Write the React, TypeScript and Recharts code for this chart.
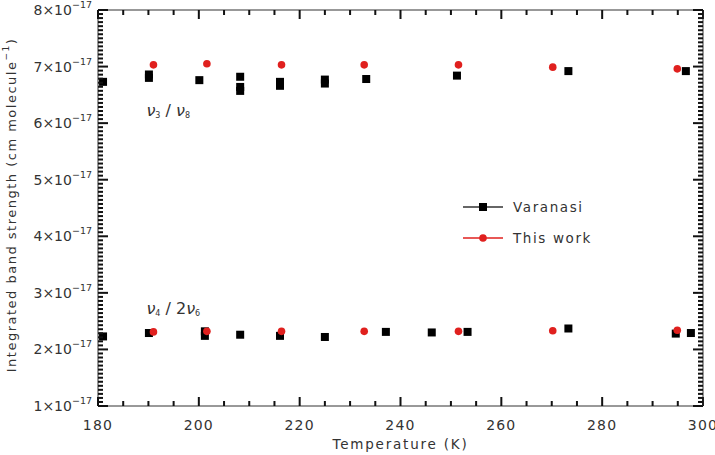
import { ScatterChart, Scatter, XAxis, YAxis, ReferenceDot } from "recharts"

// band strengths in units of 1e-17 cm molecule^-1
const VARANASI_HI_T = [181, 190.1, 190.1, 200.1, 208.2, 208.2, 208.2, 216.1, 216.1, 225, 225, 233.2, 251.2, 273.3, 296.6]
const VARANASI_HI_S = [6.73, 6.86, 6.8, 6.76, 6.82, 6.64, 6.57, 6.73, 6.66, 6.77, 6.7, 6.78, 6.84, 6.92, 6.92]
const VARANASI_LO_T = [181, 190.1, 201.2, 201.2, 208.2, 216.1, 225, 237.1, 246.2, 253.3, 273.3, 294.6, 297.6]
const VARANASI_LO_S = [2.23, 2.29, 2.32, 2.24, 2.26, 2.24, 2.22, 2.31, 2.3, 2.31, 2.37, 2.28, 2.29]
const THIS_WORK_T = [191, 201.6, 216.4, 232.8, 251.5, 270.2, 294.9]
const THIS_WORK_HI_S = [7.03, 7.05, 7.03, 7.03, 7.03, 6.99, 6.96]
const THIS_WORK_LO_S = [2.31, 2.32, 2.32, 2.32, 2.32, 2.33, 2.34]

const X_MAJOR = [180, 200, 220, 240, 260, 280, 300]
const Y_MAJOR = [1, 2, 3, 4, 5, 6, 7, 8]
const X_MINOR_STEP = 5
const Y_MINOR_PER_UNIT = 14

const W = 715
const H = 455
const PLOT_W = 605
const PLOT_H = 396
const FONT = "'DejaVu Sans', sans-serif"
const INK = "#333"
const TICK = "#111"
const RED = "#e0201e"

const zip = (t: number[], s: number[]) => t.map((x, i) => ({ t: x, s: s[i] }))
const varanasi = [...zip(VARANASI_HI_T, VARANASI_HI_S), ...zip(VARANASI_LO_T, VARANASI_LO_S)]
const thisWork = [...zip(THIS_WORK_T, THIS_WORK_HI_S), ...zip(THIS_WORK_T, THIS_WORK_LO_S)]

const xTicks: number[] = []
for (let v = X_MAJOR[0]; v <= X_MAJOR[X_MAJOR.length - 1]; v += X_MINOR_STEP) xTicks.push(v)
const yTicks: number[] = []
for (let i = 0; i < Y_MAJOR.length - 1; i++)
  for (let k = 0; k < Y_MINOR_PER_UNIT; k++) yTicks.push(Y_MAJOR[i] + k / Y_MINOR_PER_UNIT)
yTicks.push(Y_MAJOR[Y_MAJOR.length - 1])

const isMajor = (v: number, list: number[]) => list.some(m => Math.abs(m - v) < 1e-6)
const TW = 2

// ticks point inward on all four sides, like the IDL original; the first tick also draws the far frame edge
function XTick(props: any) {
  const { payload } = props
  const x = Number(props.x)
  const y = Number(props.y)
  const major = isMajor(payload.value, X_MAJOR)
  const len = major ? 9 : 5
  const top = y - PLOT_H
  const first = payload.value === X_MAJOR[0]
  return (
    <g>
      <rect x={x - TW / 2} y={y - len} width={TW} height={len} fill={TICK} />
      <rect x={x - TW / 2} y={top} width={TW} height={len} fill={TICK} />
      {first && <rect x={x} y={top - 0.5} width={PLOT_W} height={1} fill={INK} />}
      {major && (
        <text x={x} y={y + 24} textAnchor="middle" fontSize={14} fill={INK} fontFamily={FONT} letterSpacing={1.2}>
          {payload.value}
        </text>
      )}
    </g>
  )
}

function YTick(props: any) {
  const { payload } = props
  const x = Number(props.x)
  const y = Number(props.y)
  const major = isMajor(payload.value, Y_MAJOR)
  const len = major ? 10 : 5
  const right = x + PLOT_W
  const first = payload.value === Y_MAJOR[0]
  return (
    <g>
      <rect x={x} y={y - TW / 2} width={len} height={TW} fill={TICK} />
      <rect x={right - len} y={y - TW / 2} width={len} height={TW} fill={TICK} />
      {first && <rect x={right - 0.5} y={y - PLOT_H} width={1} height={PLOT_H} fill={INK} />}
      {major && (
        <text x={x - 6} y={y + 5} textAnchor="end" fontSize={14} fill={INK} fontFamily={FONT}>
          {Math.round(payload.value)}×10<tspan dy={-7} fontSize={9.5}>−17</tspan>
        </text>
      )}
    </g>
  )
}

function YTitle({ viewBox }: any) {
  const cx = viewBox.x + 12
  const cy = viewBox.y + viewBox.height / 2 - 3
  return (
    <text x={cx} y={cy} transform={`rotate(-90 ${cx} ${cy})`} textAnchor="middle" dominantBaseline="middle"
      fontSize={13} fill={INK} fontFamily={FONT} letterSpacing={1.5}>
      Integrated band strength (cm molecule<tspan dy={-6} fontSize={9}>−1</tspan><tspan dy={6}>)</tspan>
    </text>
  )
}

function XTitle({ viewBox }: any) {
  return (
    <text x={viewBox.x + viewBox.width / 2} y={viewBox.y + 43} textAnchor="middle" fontSize={13.5} fill={INK}
      fontFamily={FONT} letterSpacing={1.8}>
      Temperature (K)
    </text>
  )
}

function BandLabel({ viewBox, a, b, pre }: any) {
  return (
    <text x={viewBox.x} y={viewBox.y} fontSize={16} fill={INK} fontFamily={FONT} fontStyle="italic">
      ν<tspan fontSize={8} dy={2} fontStyle="normal">{a}</tspan>
      <tspan dy={-2} fontStyle="normal">{"  /  "}{pre}</tspan>ν<tspan fontSize={8} dy={2} fontStyle="normal">{b}</tspan>
    </text>
  )
}

function Square({ cx, cy }: any) {
  return <rect x={cx - 4} y={cy - 4} width={8} height={8} fill="#000" />
}

function Dot({ cx, cy }: any) {
  return <circle cx={cx} cy={cy} r={3.8} fill={RED} />
}

function LegendBox() {
  const rows = [
    { name: "Varanasi", color: INK, dot: <rect x={16} y={-4} width={8} height={8} fill="#000" /> },
    { name: "This work", color: RED, dot: <circle cx={20} cy={0} r={3.8} fill={RED} /> },
  ]
  return (
    <svg width={170} height={50} style={{ position: "absolute", left: 463, top: 199 }}>
      {rows.map((r, i) => (
        <g key={r.name} transform={`translate(0, ${8 + i * 31})`}>
          <line x1={0} y1={0} x2={40} y2={0} stroke={r.color} strokeWidth={1.5} />
          {r.dot}
          <text x={50} y={5} fontSize={13.5} fill={INK} fontFamily={FONT} letterSpacing={1.6}>{r.name}</text>
        </g>
      ))}
    </svg>
  )
}

export default function App() {
  return (
    <div style={{ position: "absolute", left: 0, top: 0, width: W, height: H, background: "#fff" }}>
      <ScatterChart width={W} height={H} margin={{ top: 10, right: 12, bottom: 0, left: 0 }}>
        <XAxis type="number" dataKey="t" domain={[180, 300]} ticks={xTicks} interval={0} tick={XTick}
          tickLine={false} tickSize={0} tickMargin={0} height={49} stroke={INK} allowDataOverflow label={<XTitle />} />
        <YAxis type="number" dataKey="s" domain={[1, 8]} ticks={yTicks} interval={0} tick={YTick}
          tickLine={false} tickSize={0} tickMargin={0} width={98} stroke={INK} allowDataOverflow label={<YTitle />} />
        <ReferenceDot x={189.6} y={6.12} r={0} stroke="none" label={<BandLabel a="3" b="8" pre="" />} />
        <ReferenceDot x={189.6} y={2.62} r={0} stroke="none" label={<BandLabel a="4" b="6" pre="2" />} />
        <Scatter name="Varanasi" data={varanasi} shape={<Square />} isAnimationActive={false} />
        <Scatter name="This work" data={thisWork} shape={<Dot />} isAnimationActive={false} />
      </ScatterChart>
      <LegendBox />
    </div>
  )
}
